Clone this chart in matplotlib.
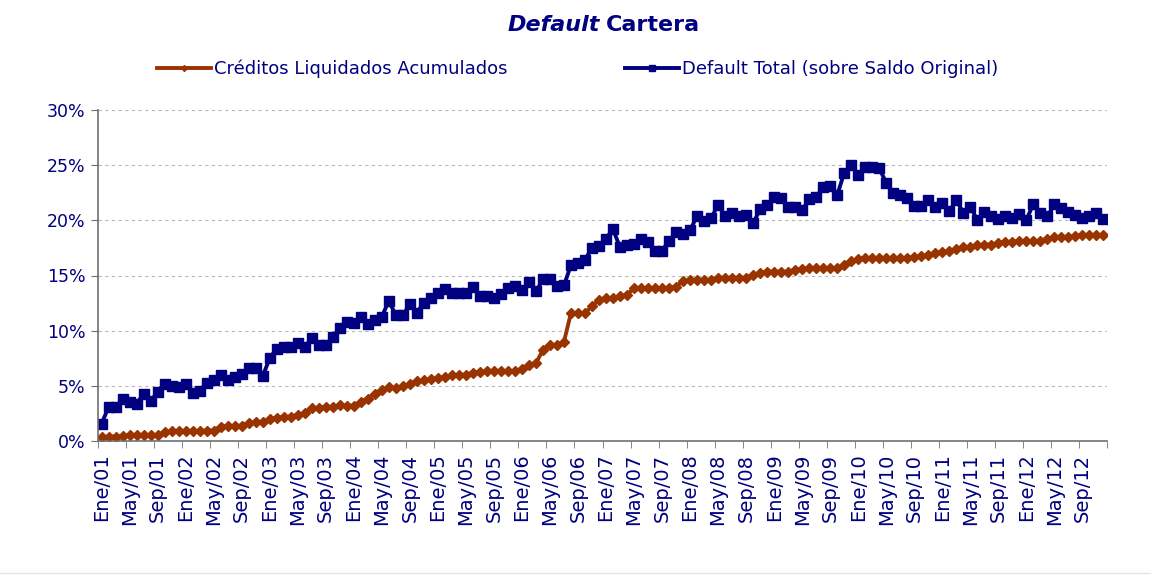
import numpy as np
import matplotlib.pyplot as plt
from matplotlib.lines import Line2D
from matplotlib.ticker import FuncFormatter

meses = ['Ene', 'Feb', 'Mar', 'Abr', 'May', 'Jun', 'Jul', 'Ago', 'Sep', 'Oct', 'Nov', 'Dic']
anios = list(range(2001, 2013))
etiquetas = [f'{m}/{a % 100:02d}' for a in anios for m in meses]

# % mensual, Ene/01 .. Dic/12
creditos_liquidados = [
    0.35, 0.4, 0.4, 0.45, 0.5, 0.5, 0.5, 0.5, 0.55, 0.8, 0.9, 0.9,
    0.9, 0.9, 0.9, 0.95, 0.95, 1.3, 1.35, 1.35, 1.4, 1.65, 1.7, 1.75,
    2.0, 2.1, 2.2, 2.2, 2.4, 2.5, 3.0, 3.0, 3.05, 3.1, 3.25, 3.2,
    3.2, 3.55, 3.85, 4.3, 4.6, 4.85, 4.8, 4.95, 5.15, 5.4, 5.5, 5.6,
    5.7, 5.8, 5.95, 6.0, 6.0, 6.2, 6.25, 6.3, 6.35, 6.35, 6.3, 6.35,
    6.5, 6.9, 7.05, 8.25, 8.7, 8.7, 9.0, 11.6, 11.6, 11.6, 12.2, 12.8,
    12.95, 12.95, 13.15, 13.25, 13.85, 13.85, 13.85, 13.85, 13.85, 13.85, 14.0, 14.5,
    14.55, 14.6, 14.6, 14.6, 14.8, 14.8, 14.8, 14.8, 14.8, 15.05, 15.25, 15.35,
    15.35, 15.35, 15.35, 15.5, 15.6, 15.65, 15.65, 15.65, 15.65, 15.65, 15.95, 16.3,
    16.5, 16.6, 16.6, 16.6, 16.6, 16.6, 16.6, 16.6, 16.65, 16.75, 16.85, 17.0,
    17.15, 17.2, 17.4, 17.55, 17.6, 17.75, 17.8, 17.8, 17.95, 18.05, 18.05, 18.1,
    18.1, 18.1, 18.1, 18.35, 18.45, 18.45, 18.5, 18.6, 18.65, 18.65, 18.65, 18.65,
]
default_total = [
    1.55, 3.05, 3.05, 3.85, 3.55, 3.35, 4.3, 3.6, 4.45, 5.2, 5.0, 4.85,
    5.15, 4.35, 4.55, 5.3, 5.5, 6.0, 5.5, 5.8, 6.1, 6.6, 6.6, 5.85,
    7.5, 8.35, 8.55, 8.55, 8.9, 8.55, 9.3, 8.7, 8.7, 9.45, 10.2, 10.8,
    10.65, 11.2, 10.6, 10.95, 11.25, 12.7, 11.4, 11.4, 12.4, 11.6, 12.55, 13.0,
    13.4, 13.75, 13.45, 13.45, 13.45, 14.0, 13.1, 13.1, 12.95, 13.3, 13.85, 14.05,
    13.7, 14.45, 13.55, 14.65, 14.65, 14.05, 14.1, 15.95, 16.15, 16.45, 17.45, 17.7,
    18.35, 19.2, 17.55, 17.75, 17.85, 18.35, 18.05, 17.25, 17.25, 18.15, 18.9, 18.75,
    19.1, 20.4, 19.9, 20.2, 21.4, 20.35, 20.7, 20.35, 20.5, 19.75, 21.0, 21.4,
    22.1, 22.0, 21.2, 21.2, 20.9, 21.9, 22.15, 23.0, 23.1, 22.3, 24.3, 25.0,
    24.1, 24.85, 24.85, 24.7, 23.4, 22.45, 22.3, 22.0, 21.3, 21.3, 21.85, 21.2,
    21.55, 20.85, 21.8, 20.7, 21.25, 20.0, 20.75, 20.4, 20.1, 20.4, 20.2, 20.55,
    20.05, 21.5, 20.7, 20.35, 21.45, 21.1, 20.8, 20.45, 20.2, 20.4, 20.65, 20.1,
]

navy = '#000080'
rojo = '#993300'

fig = plt.figure(figsize=(11.51, 5.75), dpi=100)
ax = fig.add_axes([98 / 1151, 134 / 575, 1009 / 1151, 331 / 575])

x = np.arange(len(etiquetas))
ax.plot(x, np.array(creditos_liquidados) / 100, color=rojo, lw=2.8,
        marker='D', ms=5, label='Créditos Liquidados Acumulados')
ax.plot(x, np.array(default_total) / 100, color=navy, lw=2.8,
        marker='s', ms=7, label='Default Total (sobre Saldo Original)')

ax.set_xlim(-0.5, len(x) - 0.5)
ax.set_ylim(0, 0.30)
ax.set_yticks(np.arange(0, 0.301, 0.05))
ax.yaxis.set_major_formatter(FuncFormatter(lambda v, p: f'{v * 100:.0f}%'))
ax.set_xticks(x[::4])
ax.set_xticklabels(etiquetas[::4], rotation=90)
ax.set_xticks(np.arange(-0.5, len(x), 4), minor=True)

ax.tick_params(axis='x', which='major', length=0, pad=9, labelsize=14, labelcolor=navy)
ax.tick_params(axis='x', which='minor', length=5, color='#707070')
ax.tick_params(axis='y', length=5, color='#707070', pad=4, labelsize=12.5, labelcolor=navy)
ax.grid(axis='y', ls=(0, (3, 3)), color='#b8b8b8', lw=0.8)
ax.set_axisbelow(True)
for s in ['top', 'right']:
    ax.spines[s].set_visible(False)
for s in ['left', 'bottom']:
    ax.spines[s].set_color('#707070')
    ax.spines[s].set_linewidth(1.2)

fig.text(600 / 1151, 1 - 25 / 575, 'Default', ha='right', va='center',
         fontsize=16, fontweight='bold', fontstyle='italic', color=navy)
fig.text(606 / 1151, 1 - 25 / 575, 'Cartera', ha='left', va='center',
         fontsize=16, fontweight='bold', color=navy)

fig.legend(loc='center left', bbox_to_anchor=(150 / 1151, 1 - 69 / 575), ncol=2,
           frameon=False, fontsize=13, labelcolor=navy, handlelength=3.0,
           handletextpad=0.15, columnspacing=6.5, markerscale=0.6, borderaxespad=0)

fig.add_artist(Line2D([0, 1], [0.004, 0.004], color='#e4e4e4', lw=1))

plt.savefig('out.png', dpi=100)
plt.close()
